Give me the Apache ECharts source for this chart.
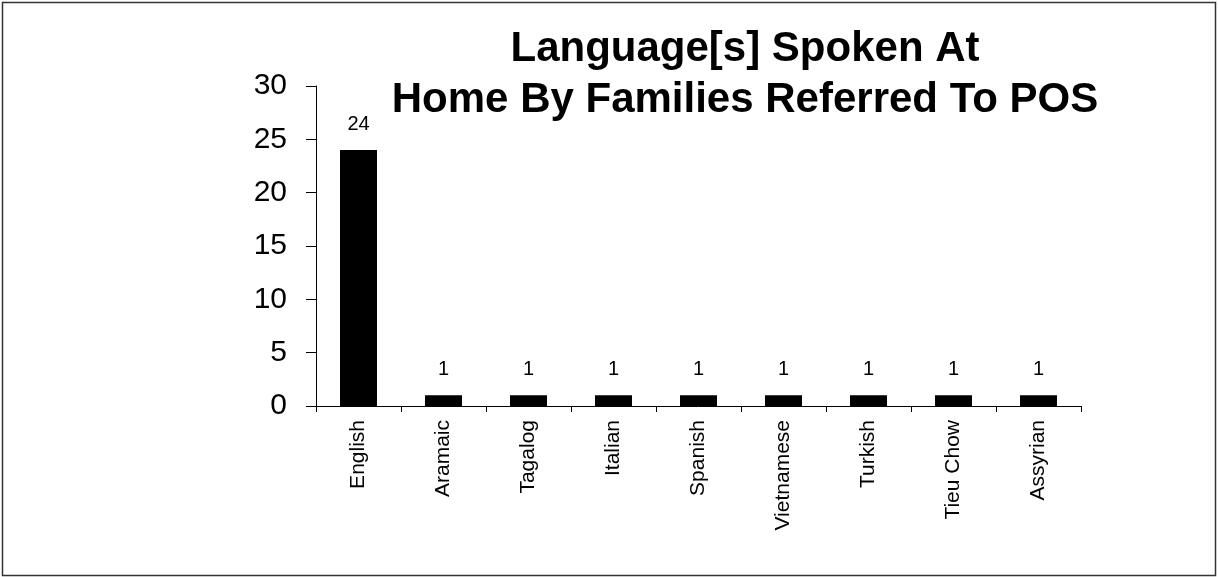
<!DOCTYPE html>
<html>
<head>
<meta charset="utf-8">
<script src="https://cdn.jsdelivr.net/npm/echarts@6/dist/echarts.min.js"></script>
<style>
  html, body { margin: 0; padding: 0; background: #fff; }
  #chart { width: 1218px; height: 577px; }
</style>
</head>
<body>
<div id="chart"></div>
<script>
// Languages spoken at home, count of families
const languages = ['English', 'Aramaic', 'Tagalog', 'Italian', 'Spanish', 'Vietnamese', 'Turkish', 'Tieu Chow', 'Assyrian'];
const familyCounts = [24, 1, 1, 1, 1, 1, 1, 1, 1];
const titleLines = ['Language[s] Spoken At', 'Home By Families Referred To POS'];

const FONT = '"Liberation Sans", Arial, Helvetica, sans-serif';

const chart = echarts.init(document.getElementById('chart'), null, { renderer: 'canvas' });

chart.setOption({
  backgroundColor: '#ffffff',
  animation: false,
  title: {
    text: titleLines.join('\n'),
    left: 740,
    top: 19,
    textAlign: 'center',
    textStyle: {
      fontFamily: FONT,
      fontWeight: 'bold',
      fontSize: 42,
      lineHeight: 51,
      color: '#000'
    }
  },
  graphic: [{
    type: 'rect',
    shape: { x: 2.5, y: 2.5, width: 1213, height: 573 },
    style: { fill: 'none', stroke: '#333', lineWidth: 1.5 },
    silent: true,
    z: -1
  }],
  grid: { left: 316, right: 137, top: 86, bottom: 171, containLabel: false },
  xAxis: {
    type: 'category',
    data: languages,
    boundaryGap: true,
    axisLine: { show: true, lineStyle: { color: '#000', width: 1 } },
    axisTick: { show: true, length: 6, inside: false, alignWithLabel: false, lineStyle: { color: '#000' } },
    axisLabel: {
      rotate: 90,
      interval: 0,
      margin: 14,
      fontFamily: FONT,
      fontSize: 21,
      color: '#000'
    },
    splitLine: { show: false }
  },
  yAxis: {
    type: 'value',
    min: 0,
    max: 30,
    interval: 5,
    axisLine: { show: true, lineStyle: { color: '#000', width: 1 } },
    axisTick: { show: true, length: 10, inside: false, lineStyle: { color: '#000' } },
    axisLabel: {
      margin: 29,
      fontFamily: FONT,
      fontSize: 30,
      color: '#000'
    },
    splitLine: { show: false }
  },
  series: [{
    type: 'bar',
    data: familyCounts,
    barWidth: 37,
    itemStyle: { color: '#000' },
    label: {
      show: true,
      position: 'top',
      distance: 16,
      fontFamily: FONT,
      fontSize: 20,
      color: '#000'
    }
  }]
});
</script>
</body>
</html>
